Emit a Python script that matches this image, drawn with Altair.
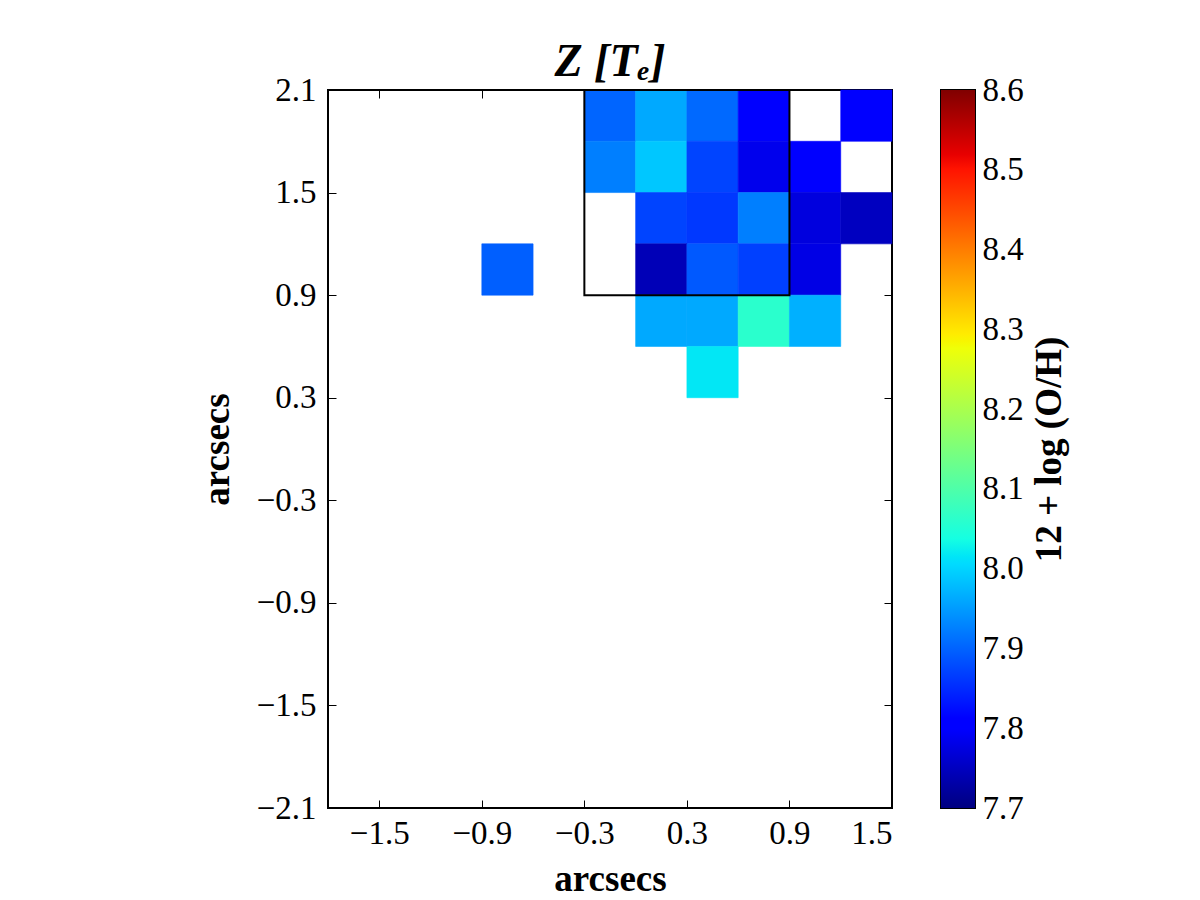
import altair as alt
import pandas as pd

# Spaxel lower-left corners (arcsec) and 12 + log(O/H) from the Te method
pix_x = [-0.3, 0.0, 0.3, 0.6, 1.2,
         -0.3, 0.0, 0.3, 0.6, 0.9,
         0.0, 0.3, 0.6, 0.9, 1.2,
         0.0, 0.3, 0.6, 0.9, -0.9,
         0.0, 0.3, 0.6, 0.9,
         0.3]
pix_y = [1.8, 1.8, 1.8, 1.8, 1.8,
         1.5, 1.5, 1.5, 1.5, 1.5,
         1.2, 1.2, 1.2, 1.2, 1.2,
         0.9, 0.9, 0.9, 0.9, 0.9,
         0.6, 0.6, 0.6, 0.6,
         0.3]
oh_values = [7.902, 7.962, 7.905, 7.805, 7.805,
             7.925, 7.988, 7.873, 7.785, 7.800,
             7.873, 7.862, 7.925, 7.773, 7.750,
             7.743, 7.891, 7.869, 7.779, 7.896,
             7.962, 7.962, 8.060, 7.968,
             8.017]
pix_size = 0.3

# Aperture box (arcsec)
box_x = [-0.3, 0.9]
box_y = [0.9, 2.1]

x_ticks = [-1.5, -0.9, -0.3, 0.3, 0.9, 1.5]
y_ticks = [-2.1, -1.5, -0.9, -0.3, 0.3, 0.9, 1.5, 2.1]
cbar_ticks = [7.7, 7.8, 7.9, 8.0, 8.1, 8.2, 8.3, 8.4, 8.5, 8.6]
c_min, c_max = 7.7, 8.6

FONT = "Liberation Serif"
TICK = 8

# matplotlib "jet" colormap segment data
JET = {
    "r": [(0.0, 0.0), (0.35, 0.0), (0.66, 1.0), (0.89, 1.0), (1.0, 0.5)],
    "g": [(0.0, 0.0), (0.125, 0.0), (0.375, 1.0), (0.64, 1.0), (0.91, 0.0), (1.0, 0.0)],
    "b": [(0.0, 0.5), (0.11, 1.0), (0.34, 1.0), (0.65, 0.0), (1.0, 0.0)],
}


def channel(segs, t):
    for (t0, v0), (t1, v1) in zip(segs, segs[1:]):
        if t0 <= t <= t1:
            return v0 + (v1 - v0) * (t - t0) / (t1 - t0)
    return segs[-1][1]


def jet_hex(t):
    return "#" + "".join(
        "%02x" % int(round(255 * channel(JET[k], t))) for k in "rgb")


jet_pos = sorted({p for segs in JET.values() for p, _ in segs})
jet_colors = [jet_hex(t) for t in jet_pos]
jet_domain = [c_min + (c_max - c_min) * t for t in jet_pos]

cscale = alt.Scale(domain=jet_domain, range=jet_colors, interpolate="rgb",
                   clamp=True)
xscale = alt.Scale(domain=[-1.8, 1.5], nice=False, zero=False)
yscale = alt.Scale(domain=[-2.1, 2.1], nice=False, zero=False)

pix = pd.DataFrame({
    "x0": pix_x,
    "y0": pix_y,
    "oh": oh_values,
})
pix["x1"] = pix["x0"] + pix_size
pix["y1"] = pix["y0"] + pix_size

label_style = dict(labelFont=FONT, labelFontSize=33, labelColor="black",
                   tickColor="black", tickWidth=1, tickSize=TICK,
                   offset=-TICK, domain=False, grid=False)
title_style = dict(titleFont=FONT, titleFontSize=37, titleFontWeight="bold",
                   titleColor="black")

heat = alt.Chart(pix).mark_rect(strokeWidth=0.6).encode(
    x=alt.X("x0:Q", scale=xscale,
            axis=alt.Axis(orient="bottom", values=x_ticks, format=".1f",
                          labelPadding=9, title="arcsecs",
                          titlePadding=11, **label_style, **title_style)),
    x2="x1:Q",
    y=alt.Y("y0:Q", scale=yscale,
            axis=alt.Axis(orient="left", values=y_ticks, format=".1f",
                          labelPadding=12, title="arcsecs",
                          titlePadding=20, **label_style, **title_style)),
    y2="y1:Q",
    color=alt.Color("oh:Q", scale=cscale, legend=None),
    stroke=alt.Stroke("oh:Q", scale=cscale, legend=None),
)

box = alt.Chart(pd.DataFrame({
    "x0": [box_x[0]], "x1": [box_x[1]], "y0": [box_y[0]], "y1": [box_y[1]],
})).mark_rect(fillOpacity=0, stroke="black", strokeWidth=2).encode(
    x=alt.X("x0:Q", scale=xscale,
            axis=alt.Axis(orient="top", values=x_ticks, labels=False,
                          title=None, tickColor="black", tickSize=TICK,
                          offset=-TICK, domain=False, grid=False)),
    x2="x1:Q",
    y=alt.Y("y0:Q", scale=yscale,
            axis=alt.Axis(orient="right", values=y_ticks, labels=False,
                          title=None, tickColor="black", tickSize=TICK,
                          offset=-TICK, domain=False, grid=False)),
    y2="y1:Q",
)

main = alt.layer(heat, box).resolve_scale(
    x="independent", y="independent"
).properties(
    width=564, height=718,
    title=alt.TitleParams("Z [Tₑ]", font=FONT, fontSize=46,
                          fontStyle="italic", fontWeight="bold",
                          color="black", anchor="middle", offset=-12),
)

# Colorbar: one rect filled with the jet gradient
gradient = alt.Gradient(
    gradient="linear",
    stops=[alt.GradientStop(offset=t, color=c)
           for t, c in zip(jet_pos, jet_colors)],
    x1=0, x2=0, y1=1, y2=0,
)
cbar = alt.Chart(pd.DataFrame({"lo": [c_min], "hi": [c_max]})).mark_rect(
    fill=gradient
).encode(
    x=alt.value(0), x2=alt.value(34),
    y=alt.Y("lo:Q", scale=alt.Scale(domain=[c_min, c_max], nice=False,
                                    zero=False),
            axis=alt.Axis(orient="right", values=cbar_ticks, format=".1f",
                          labelPadding=7, title="12 + log (O/H)",
                          titleAngle=270, titleBaseline="top",
                          titlePadding=8,
                          **label_style, **title_style)),
    y2="hi:Q",
).properties(width=34, height=718)

chart = alt.hconcat(main, cbar, spacing=46).properties(
    padding={"left": 197, "top": 38, "right": 10, "bottom": 0}
).configure(
    background="white",
    view=alt.ViewConfig(stroke="black", strokeWidth=2),
)

chart.save("out.html", embed_options={"renderer": "svg", "actions": False})
